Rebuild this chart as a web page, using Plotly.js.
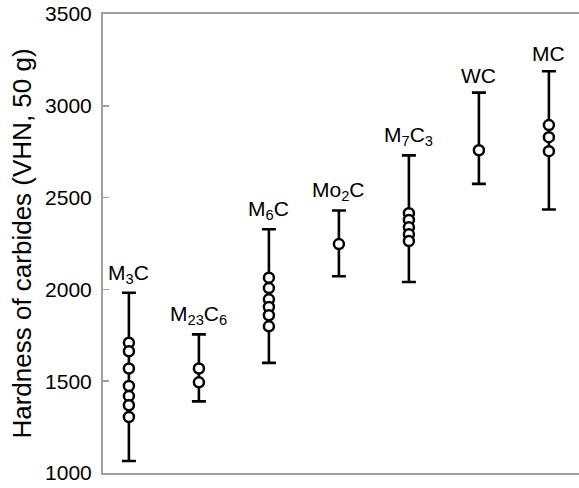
<!DOCTYPE html>
<html>
<head>
<meta charset="utf-8">
<script src="https://cdn.plot.ly/plotly-3.0.1.min.js"></script>
<style>
  html, body { margin: 0; padding: 0; background: #ffffff; }
  #chart { width: 579px; height: 488px; }
</style>
</head>
<body>
<div id="chart"></div>
<script>
// ---- data ----
var carbideLabels = ['M<sub>3</sub>C', 'M<sub>23</sub>C<sub>6</sub>', 'M<sub>6</sub>C', 'Mo<sub>2</sub>C', 'M<sub>7</sub>C<sub>3</sub>', 'WC', 'MC'];
var rangeLow  = [1065, 1390, 1600, 2072, 2040, 2575, 2435];
var rangeHigh = [1982, 1755, 2328, 2430, 2730, 3072, 3188];
var hardnessM3C   = [1710, 1663, 1569, 1474, 1419, 1369, 1305];
var hardnessM23C6 = [1569, 1494];
var hardnessM6C   = [2064, 2007, 1946, 1904, 1859, 1799];
var hardnessMo2C  = [2247];
var hardnessM7C3  = [2415, 2378, 2338, 2300, 2263];
var hardnessWC    = [2758];
var hardnessMC    = [2895, 2829, 2753];
var yTicks = [1000, 1500, 2000, 2500, 3000, 3500];

// ---- build traces ----
var groups = [hardnessM3C, hardnessM23C6, hardnessM6C, hardnessMo2C, hardnessM7C3, hardnessWC, hardnessMC];
var idx = carbideLabels.map(function (_, i) { return i; });

var ptX = [], ptY = [];
groups.forEach(function (g, i) {
  g.forEach(function (v) { ptX.push(i); ptY.push(v); });
});

var FONT = 'Liberation Sans, Arial, sans-serif';
var lineW = 2.6;
var errTrace = {
  type: 'scatter',
  mode: 'markers',
  x: idx,
  y: rangeHigh,
  marker: { size: 1, opacity: 0 },
  error_y: {
    type: 'data',
    symmetric: false,
    array: rangeHigh.map(function () { return 0; }),
    arrayminus: rangeHigh.map(function (h, i) { return h - rangeLow[i]; }),
    color: '#000000',
    thickness: lineW,
    width: 7
  },
  hoverinfo: 'skip',
  showlegend: false
};

var pointTrace = {
  type: 'scatter',
  mode: 'markers',
  x: ptX,
  y: ptY,
  marker: {
    symbol: 'circle',
    size: 10,
    color: '#ffffff',
    line: { color: '#000000', width: 2.5 }
  },
  showlegend: false
};

var annotations = carbideLabels.map(function (lab, i) {
  return {
    x: i, y: rangeHigh[i], xref: 'x', yref: 'y',
    text: lab, showarrow: false,
    xanchor: 'center', yanchor: 'bottom', yshift: 4,
    font: { family: FONT, size: 21, color: '#000000' }
  };
});

var axisGray = '#a0a0a0';
var layout = {
  width: 579, height: 488,
  margin: { l: 103, r: 0, t: 14, b: 15, pad: 0 },
  paper_bgcolor: '#ffffff',
  plot_bgcolor: '#ffffff',
  font: { family: FONT, color: '#000000' },
  showlegend: false,
  xaxis: {
    range: [-0.37, 6.43],
    showgrid: false, zeroline: false,
    showticklabels: false, ticks: '',
    showline: true, linecolor: axisGray, linewidth: 2, mirror: true
  },
  yaxis: {
    range: [1000, 3500],
    tickvals: yTicks,
    ticktext: yTicks.map(String),
    showgrid: false, zeroline: false,
    ticks: 'inside', ticklen: 6, tickwidth: 1.5, tickcolor: axisGray,
    ticklabelstandoff: 5,
    tickfont: { family: FONT, size: 21, color: '#000000' },
    showline: true, linecolor: axisGray, linewidth: 2,
    title: {
      text: 'Hardness of carbides (VHN, 50 g)',
      font: { family: FONT, size: 26, color: '#000000' },
      standoff: 6
    }
  },
  annotations: annotations
};

Plotly.newPlot('chart', [errTrace, pointTrace], layout, { displayModeBar: false, staticPlot: true });
</script>
</body>
</html>
